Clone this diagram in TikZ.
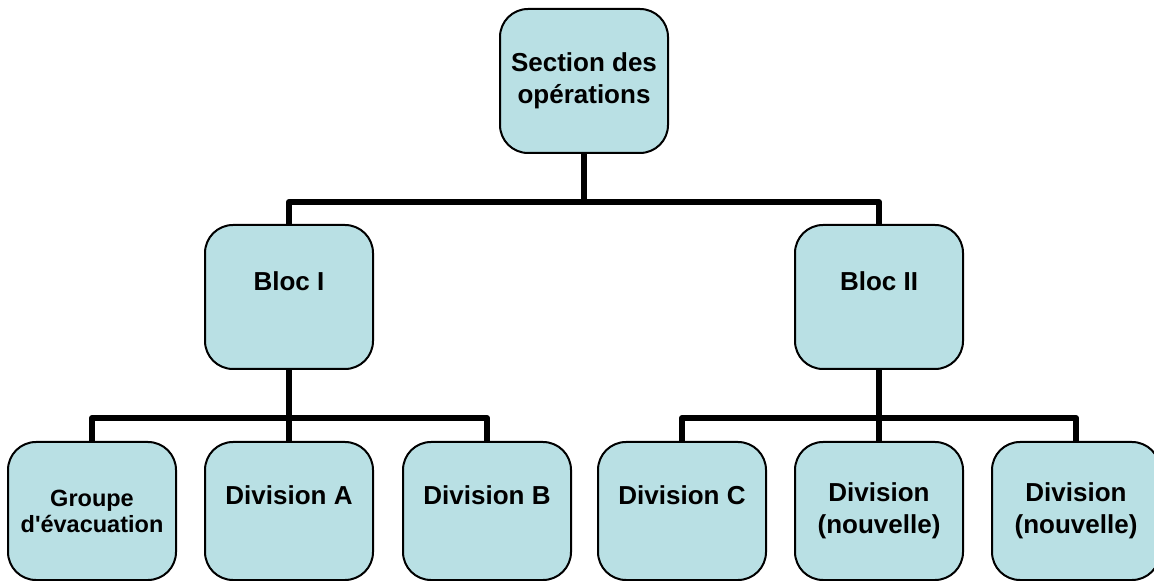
\documentclass[tikz,border=0pt]{standalone}
\usepackage{fontspec}
\setmainfont{Liberation Sans}
\definecolor{boxfill}{HTML}{B9E0E4}
\tikzstyle{unit}=[draw, line width=1pt, fill=boxfill, rounded corners=14pt, minimum width=84pt, minimum height=72pt, align=center, font=\bfseries\fontsize{13}{16}\selectfont]
\tikzstyle{leaf}=[unit, minimum height=69pt]
\tikzstyle{link}=[line width=3pt, line join=round]

\begin{document}
\begin{tikzpicture}[x=0.5pt, y=-0.5pt]
\clip (0, 0) rectangle (1154, 581);
\node[unit] at (584, 81) (ops) {Section des\\opérations};
\node[unit] at (289, 297) (b1) {Bloc I\\~};
\node[unit] at (879, 297) (b2) {Bloc II\\~};
\node[leaf, font=\bfseries\fontsize{11.75}{13}\selectfont] at (92, 511) (evac) {Groupe\\d\textquotesingle évacuation};
\node[leaf] at (289, 511) (divA) {Division A\\~};
\node[leaf] at (487, 511) (divB) {Division B\\~};
\node[leaf] at (682, 511) (divC) {Division C\\~};
\node[leaf] at (879, 511) (new1) {Division\\(nouvelle)};
\node[leaf] at (1076, 511) (new2) {Division\\(nouvelle)};
\draw[link] (ops.south) -- ++(0, 48) -| (b1.north);
\draw[link] (ops.south) -- ++(0, 48) -| (b2.north);
\draw[link] (b1.south) -- ++(0, 48) -| (evac.north);
\draw[link] (b1.south) -- (divA.north);
\draw[link] (b1.south) -- ++(0, 48) -| (divB.north);
\draw[link] (b2.south) -- ++(0, 48) -| (divC.north);
\draw[link] (b2.south) -- (new1.north);
\draw[link] (b2.south) -- ++(0, 48) -| (new2.north);
\end{tikzpicture}
\end{document}
